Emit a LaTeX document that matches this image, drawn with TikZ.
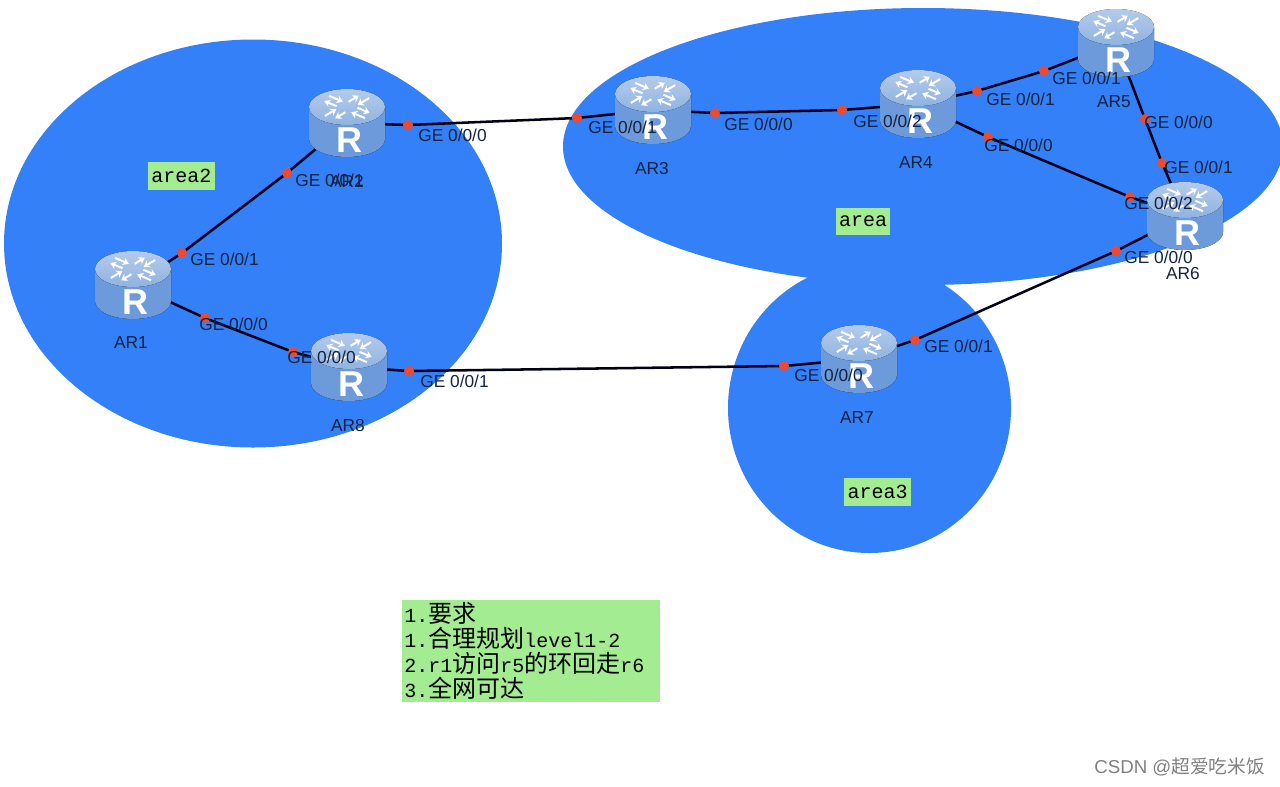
\documentclass[tikz,border=0pt]{standalone}
\usepackage{fontspec}
\setmainfont{Liberation Sans}
\setmonofont{Liberation Mono}
\newfontfamily\cjk{Noto Sans CJK SC}
\usetikzlibrary{arrows.meta}

\definecolor{areablue}{HTML}{3380F8}
\definecolor{notegreen}{HTML}{A4EC92}
\definecolor{labelink}{HTML}{15233F}
\definecolor{portred}{HTML}{EA4B32}
\definecolor{bodyedge}{HTML}{6C9ADA}
\definecolor{bodymid}{HTML}{94BBE8}
\definecolor{toplight}{HTML}{B4CBEA}
\definecolor{topdark}{HTML}{8FB3E2}

\tikzset{
	area/.style={fill=areablue, draw=none},
	routerpos/.style={circle, inner sep=0pt, minimum size=1pt},
	link/.style={line width=1.9pt, draw=black!90!blue},
	port/.style={circle, fill=portred, inner sep=0pt, minimum size=7.5pt},
	portlabel/.style={anchor=west, inner sep=0pt, text=labelink, font=\fontsize{13}{15}\selectfont},
	routername/.style={inner sep=0pt, text=labelink, font=\fontsize{13}{15}\selectfont},
	notebox/.style={fill=notegreen, inner sep=0pt, font=\ttfamily\fontsize{15}{18}\selectfont},
	pics/router/.style={code={
		\fill [left color=bodyedge, middle color=bodymid, right color=bodyedge]
			(-38,-16) -- (-38,16) arc [start angle=180, end angle=0, x radius=38, y radius=18] -- (38,-16) -- cycle;
		\fill [top color=toplight, bottom color=topdark] (0,-16) ellipse [x radius=38, y radius=18];
		\foreach \a in {40,130,220,310} {
			\begin{scope}[shift={(0,-16)}, yscale=0.5, rotate=\a]
				\draw [white, line width=1.5pt, -{Stealth[length=4.5pt,width=6pt]}] (9,-5.5) -- (25,-5.5);
				\draw [white, line width=1.5pt, -{Stealth[length=4.5pt,width=6pt]}] (28,5.5) -- (10,5.5);
			\end{scope}
		}
		\node [white, inner sep=0pt, font=\bfseries\fontsize{27}{27}\selectfont] (-sign) at (2,17) {R};
	}},
}

\begin{document}
\begin{tikzpicture}[x=0.75pt,y=0.75pt,yscale=-1,xscale=1]
	\useasboundingbox (0,0) rectangle (1280,786);

	% the three areas
	\fill [area] (253,243.5) ellipse [x radius=249, y radius=204];
	\fill [area] (923,146.5) ellipse [x radius=360, y radius=138.5];
	\fill [area] (869.5,408) ellipse [x radius=141.5, y radius=145];

	\node [routerpos] (AR1) at (133,285) {};
	\node [routerpos] (AR2) at (347,123) {};
	\node [routerpos] (AR3) at (653,110) {};
	\node [routerpos] (AR4) at (918,104) {};
	\node [routerpos] (AR5) at (1116,43) {};
	\node [routerpos] (AR6) at (1185,216) {};
	\node [routerpos] (AR7) at (859,359) {};
	\node [routerpos] (AR8) at (349,367) {};

	% interface points on the links
	\coordinate (p12) at (182,253);
	\coordinate (p21) at (287,173);
	\coordinate (p18) at (205,318);
	\coordinate (p81) at (293,352);
	\coordinate (p23) at (408,125);
	\coordinate (p32) at (577,118);
	\coordinate (p34) at (715,113);
	\coordinate (p43) at (842,110);
	\coordinate (p45) at (977,91);
	\coordinate (p54) at (1044,71);
	\coordinate (p46) at (988,137);
	\coordinate (p64) at (1130,197);
	\coordinate (p56) at (1145,119);
	\coordinate (p65) at (1162,163);
	\coordinate (p67) at (1116,251);
	\coordinate (p76) at (915,340);
	\coordinate (p78) at (784,366);
	\coordinate (p87) at (409,371);

	\foreach \a/\b/\c/\d in {AR1/p12/p21/AR2, AR1/p18/p81/AR8, AR2/p23/p32/AR3, AR3/p34/p43/AR4,
			AR4/p45/p54/AR5, AR4/p46/p64/AR6, AR5/p56/p65/AR6, AR6/p67/p76/AR7, AR7/p78/p87/AR8} {
		\draw [link] (\a) -- (\b) -- (\c) -- (\d);
	}

	\foreach \name in {AR1,AR2,AR3,AR4,AR5,AR6,AR7,AR8} {
		\pic (pic\name) [yscale=-1] at (\name) {router};
	}

	\foreach \p in {p12,p21,p18,p81,p23,p32,p34,p43,p45,p54,p46,p64,p56,p65,p67,p76,p78,p87} {
		\node [port] (dot\p) at (\p) {};
	}

	\foreach \x/\y/\n [count=\i] in {190/259/1, 295/180/1, 418/135/0, 588/127/1, 724/124/0, 853/121/2,
			986/99/1, 1052/78/1, 984/145/0, 1144/122/0, 1164/167/1, 1124/203/2, 1124/257/0,
			924/346/1, 794/375/0, 420/381/1, 199/324/0, 287/357/0} {
		\node [portlabel] (ge\i) at (\x,\y) {GE 0/0/\n};
	}

	\node [routername] (nameAR1) at (131,343) {AR1};
	\node [routername] (nameAR2) at (347,181) {AR2};
	\node [routername] (nameAR3) at (652,169) {AR3};
	\node [routername] (nameAR4) at (916,163) {AR4};
	\node [routername] (nameAR5) at (1114,102) {AR5};
	\node [routername] (nameAR6) at (1183,274) {AR6};
	\node [routername] (nameAR7) at (857,418) {AR7};
	\node [routername] (nameAR8) at (348,426) {AR8};

	\node [notebox, minimum width=50.25pt, minimum height=21pt] (area2) at (181.5,176) {area2};
	\node [notebox, minimum width=40.5pt, minimum height=20.25pt] (area) at (863,221.5) {area};
	\node [notebox, minimum width=50.25pt, minimum height=21pt] (area3) at (877.5,492) {area3};

	\node [notebox, minimum width=193.5pt, minimum height=76.5pt, text width=190pt, align=left, font=\ttfamily\fontsize{15}{18.75}\selectfont] (notes) at (531,651) {%
		1.{\cjk\fontsize{18}{18.75}\selectfont 要求}\\
		1.{\cjk\fontsize{18}{18.75}\selectfont 合理规划}level1-2\\
		2.r1{\cjk\fontsize{18}{18.75}\selectfont 访问}r5{\cjk\fontsize{18}{18.75}\selectfont 的环回走}r6\\
		3.{\cjk\fontsize{18}{18.75}\selectfont 全网可达}};

	\node [anchor=east, inner sep=0pt, text=black!50, font=\fontsize{14}{16}\selectfont] (mark) at (1265,767) {CSDN @{\cjk 超爱吃米饭}};
\end{tikzpicture}
\end{document}
